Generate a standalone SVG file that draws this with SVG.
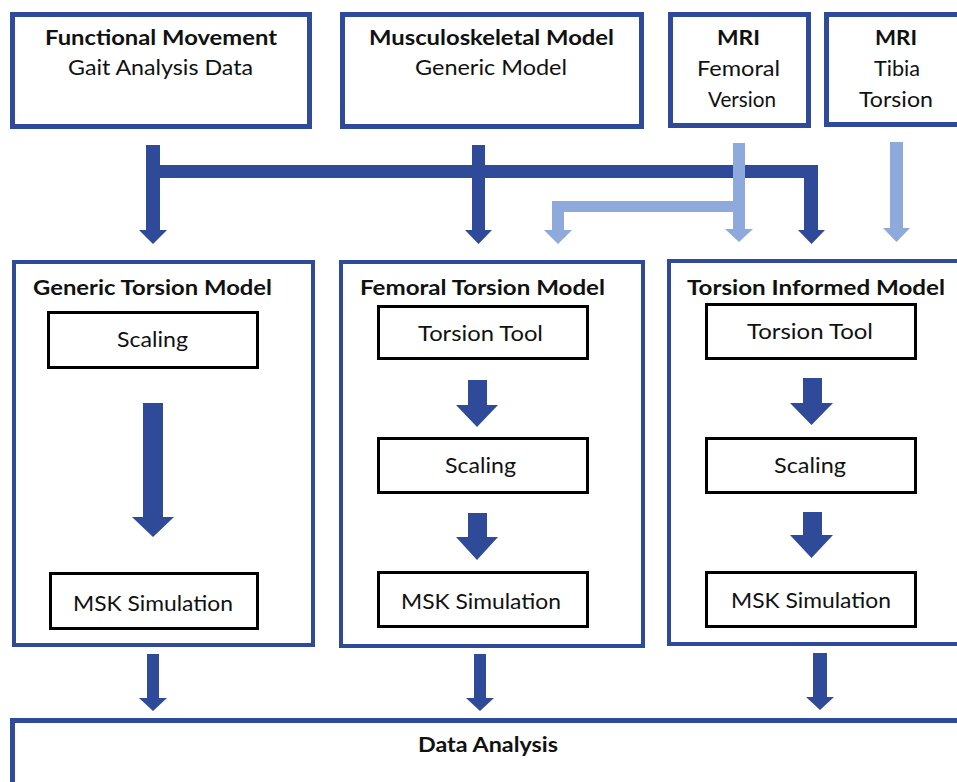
<svg xmlns="http://www.w3.org/2000/svg" width="957" height="782" viewBox="0 0 957 782">
<style>
.box{fill:#fff;stroke:#2E4A98;stroke-width:5}
.panel{fill:#fff;stroke:#2E4A98;stroke-width:4}
.inner{fill:#fff;stroke:#000;stroke-width:3}
.dark{fill:#2E4A98}
.light{fill:#8EAADC}
text{font-family:Lato,"Open Sans","Liberation Sans",sans-serif;fill:#111;text-anchor:middle}
.b{font-weight:bold;font-size:21px}
.r{font-size:21px}
.t{font-weight:bold;font-size:20px}
</style>
<rect width="957" height="782" fill="#fff"/>
<g id="functional-movement">
<rect class="box" x="12.5" y="14.5" width="297" height="112"/>
<text class="b" x="161" y="45" textLength="232" lengthAdjust="spacingAndGlyphs">Functional Movement</text>
<text class="r" x="160.5" y="75" textLength="185" lengthAdjust="spacingAndGlyphs">Gait Analysis Data</text>
</g>
<g id="msk-model">
<rect class="box" x="342.5" y="14.5" width="299" height="112"/>
<text class="b" x="491.5" y="45" textLength="245" lengthAdjust="spacingAndGlyphs">Musculoskeletal Model</text>
<text class="r" x="491" y="75" textLength="152" lengthAdjust="spacingAndGlyphs">Generic Model</text>
</g>
<g id="mri-femoral">
<rect class="box" x="670.5" y="14.5" width="138" height="111"/>
<text class="b" x="738.5" y="45" textLength="43" lengthAdjust="spacingAndGlyphs">MRI</text>
<text class="r" x="738.5" y="76" textLength="83" lengthAdjust="spacingAndGlyphs">Femoral</text>
<text class="r" x="742" y="107" textLength="68" lengthAdjust="spacingAndGlyphs">Version</text>
</g>
<g id="mri-tibia">
<rect class="box" x="826.5" y="14.5" width="200" height="110"/>
<text class="b" x="896" y="45" textLength="42" lengthAdjust="spacingAndGlyphs">MRI</text>
<text class="r" x="897" y="76" textLength="46" lengthAdjust="spacingAndGlyphs">Tibia</text>
<text class="r" x="896" y="107" textLength="74" lengthAdjust="spacingAndGlyphs">Torsion</text>
</g>
<g id="generic-torsion-model">
<rect class="panel" x="14" y="262" width="299" height="383"/>
<text class="t" x="152.5" y="295" textLength="239" lengthAdjust="spacingAndGlyphs">Generic Torsion Model</text>
<rect class="inner" x="48.5" y="312.5" width="209" height="55"/>
<text class="r" x="152.5" y="347" textLength="71" lengthAdjust="spacingAndGlyphs">Scaling</text>
<rect class="inner" x="50.5" y="573.5" width="207" height="55"/>
<text class="r" x="153" y="611" textLength="160" lengthAdjust="spacingAndGlyphs">MSK Simulation</text>
</g>
<g id="femoral-torsion-model">
<rect class="panel" x="341" y="262" width="302" height="384"/>
<text class="t" x="482.5" y="295" textLength="245" lengthAdjust="spacingAndGlyphs">Femoral Torsion Model</text>
<rect class="inner" x="378.5" y="306.5" width="209" height="52"/>
<text class="r" x="480.5" y="341" textLength="125" lengthAdjust="spacingAndGlyphs">Torsion Tool</text>
<rect class="inner" x="378.5" y="438.5" width="209" height="54"/>
<text class="r" x="480.5" y="473" textLength="71" lengthAdjust="spacingAndGlyphs">Scaling</text>
<rect class="inner" x="378.5" y="572.5" width="209" height="54"/>
<text class="r" x="481" y="609" textLength="160" lengthAdjust="spacingAndGlyphs">MSK Simulation</text>
</g>
<g id="torsion-informed-model">
<rect class="panel" x="669" y="261" width="320" height="383"/>
<text class="t" x="816" y="295" textLength="258" lengthAdjust="spacingAndGlyphs">Torsion Informed Model</text>
<rect class="inner" x="706.5" y="304.5" width="209" height="54"/>
<text class="r" x="810" y="339" textLength="126" lengthAdjust="spacingAndGlyphs">Torsion Tool</text>
<rect class="inner" x="706.5" y="438.5" width="209" height="54"/>
<text class="r" x="810" y="473" textLength="72" lengthAdjust="spacingAndGlyphs">Scaling</text>
<rect class="inner" x="706.5" y="572.5" width="209" height="54"/>
<text class="r" x="811" y="608" textLength="160" lengthAdjust="spacingAndGlyphs">MSK Simulation</text>
</g>
<g id="data-analysis">
<rect class="box" x="12.5" y="720.5" width="1000" height="100"/>
<text class="t" x="488" y="752" textLength="140" lengthAdjust="spacingAndGlyphs">Data Analysis</text>
</g>
<g id="connectors">
<path class="dark" d="M146,145 H160 V165 H818 V230 H825 L811.5,244 L798,230 H804 V178 H160 V230 H167 L153,244 L139,230 H146 Z"/>
<path class="dark" d="M472,145 H485 V230 H492 L478.5,244 L465,230 H472 Z"/>
<path class="light" d="M733,143 H745 V229 H753 L739,242 L725,229 H733 V212 H564 V230 H572 L558,244 L544,230 H552 V201 H733 Z"/>
<path class="light" d="M890,142 H903 V228 H910 L896.5,242 L883,228 H890 Z"/>
<path class="dark" d="M143,403 H163 V517 H174 L153,537 L132,517 H143 Z"/>
<path class="dark" d="M468,380 H487 V405 H498 L477,427 L456,405 H468 Z"/>
<path class="dark" d="M468,513 H487 V537 H498 L477,560 L456,537 H468 Z"/>
<path class="dark" d="M803,378 H822 V403 H833 L811.5,425 L790,403 H803 Z"/>
<path class="dark" d="M803,512 H822 V535 H833 L811.5,558 L790,535 H803 Z"/>
<path class="dark" d="M147,654 H159 V698 H167 L153,711 L139,698 H147 Z"/>
<path class="dark" d="M474,654 H486 V698 H494 L480,711 L466,698 H474 Z"/>
<path class="dark" d="M813,653 H827 V697 H834 L820,710 L806,697 H813 Z"/>
</g>
</svg>
